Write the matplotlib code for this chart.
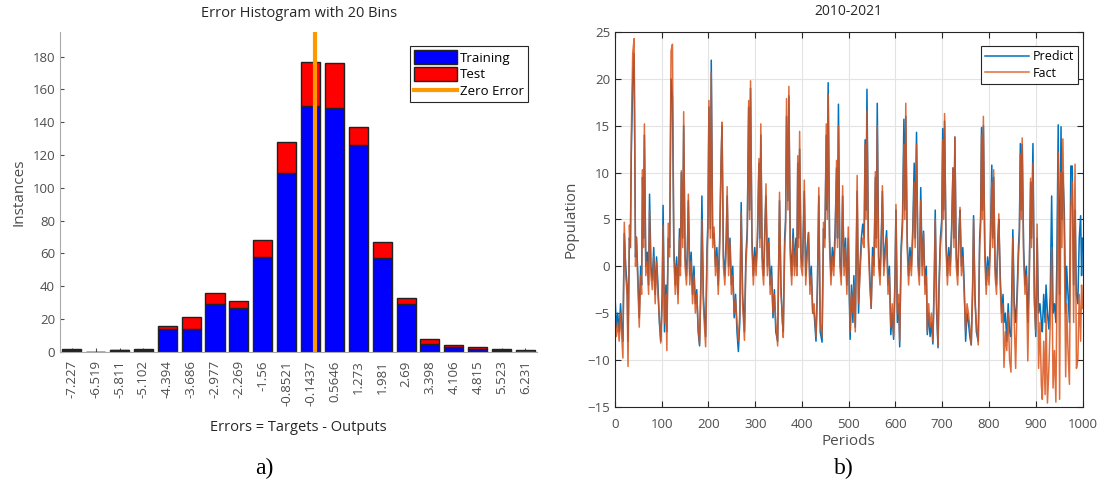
import numpy as np
import matplotlib
matplotlib.use("Agg")
from matplotlib import pyplot as plt
from matplotlib.lines import Line2D
from matplotlib.patches import Patch

plt.rcParams['font.family'] = ['Open Sans', 'DejaVu Sans']

# histogram data
bin_labels = ['-7.227', '-6.519', '-5.811', '-5.102', '-4.394', '-3.686', '-2.977',
              '-2.269', '-1.56', '-0.8521', '-0.1437', '0.5646', '1.273', '1.981',
              '2.69', '3.398', '4.106', '4.815', '5.523', '6.231']
training = [1, 0, 1, 1, 14, 14, 29, 27, 58, 109, 150, 149, 126, 57, 29, 5, 3, 2, 1, 0]
test = [1, 0, 0, 1, 2, 7, 7, 4, 10, 19, 27, 27, 11, 10, 4, 3, 1, 1, 1, 1]

# time series data (periods, fact, predict)
periods = [0, 3, 6, 9, 12, 14, 17, 20, 23, 26, 28, 31, 33, 35, 38, 41, 44, 46,
           49, 52, 55, 57, 59, 61, 63, 66, 69, 72, 74, 77, 80, 83, 86, 89, 92, 95, 98,
           101, 103, 106, 109, 111, 114, 117, 120, 123, 126,
           129, 132, 135, 138, 140, 142, 145, 147, 150, 153, 155, 157, 160, 163, 166, 169,
           172, 175, 178, 181, 184, 186, 189, 191, 194, 197, 199, 201, 204, 206,
           209, 212, 215, 218, 221, 224, 227, 229, 232, 235, 238, 240, 243, 246, 249, 252,
           255, 258, 261, 264, 267, 270, 273, 277, 280, 283, 286, 288, 290,
           293, 296, 299, 302, 305, 308, 310, 312, 315, 318, 320, 323, 326, 329, 332, 335,
           338, 341, 344, 348, 352, 355, 358, 360, 363, 365, 367, 370, 372,
           375, 378, 381, 384, 387, 389, 391, 393, 395, 398, 401, 403, 405, 408, 411, 414,
           417, 420, 423, 426, 430, 433, 436, 439, 443, 446, 449, 452, 454, 456,
           459, 462, 465, 468, 471, 474, 476, 478, 481, 484, 487, 490, 493, 496, 499, 503,
           506, 509, 511, 514, 518, 521, 524, 527, 530, 533, 535, 537, 539,
           542, 545, 548, 551, 554, 557, 559, 561, 564, 567, 570, 572, 575, 578, 581, 584,
           587, 590, 593, 596, 599, 601, 604, 607, 609, 612, 615, 618, 620, 622,
           625, 628, 631, 634, 637, 640, 642, 645, 648, 651, 654, 657, 660, 663, 666, 668,
           671, 674, 677, 680, 683, 685, 688, 691, 693, 696, 699, 701, 703, 705,
           708, 711, 714, 717, 720, 723, 725, 727, 730, 733, 736, 738, 741, 744, 747, 750,
           753, 756, 759, 762, 765, 767, 770, 773, 777, 780, 782, 784, 786, 788,
           791, 794, 797, 800, 803, 806, 808, 810, 813, 816, 819, 821, 824, 827, 830, 832,
           835, 838, 841, 844, 847, 851, 854, 857, 860, 863, 865, 867, 869, 871,
           874, 877, 880, 883, 886, 889, 891, 894, 897, 900, 903, 906, 909, 912, 914, 917,
           920, 922, 925, 928, 931, 934, 937, 940, 943, 945, 948, 951, 954, 956, 958,
           961, 964, 966, 969, 972, 975, 978, 981, 984, 987, 990, 993, 996, 998, 1000]
fact = [-5, -7.5, -6, -8, -5, -7, -9.8, 4.7, -1, -3, -10.7, 4.4, 2, 14.2, 22.7, 24.3, 0, 3.1,
        -2, -6.5, -1, -3, 10.3, 2, 15.2, -1, 0.5, -3, 6, -1, -2.5, 1, -4, 0.5, -3, -5.5, -8.2,
        -4, 4.4, -6, -3, -9, 4.6, 1, 23, 23.7, 1,
        -3, 0, -4, 3, -1, 10.2, 2, 16.5, 0, -2, 1, 7.7, -2, 0.5, -4, -1,
        -5, -3, -6.5, -8.3, -2, 5, -4, -6, -8.6, 1, 4, 17.7, 3, 20.7,
        2, 4.2, -1, 1, -3, 2, 11.4, 15.4, 0, -2, 2, 8.5, -1, 2.6, -3, -1,
        -5, -3.5, -6, -8, -5, 5.8, -4, -7.9, 0, 3, 17.7, 5, 19.8,
        2, -2, 1, -1, 4, 11.5, 2, 15.2, 0, -2, 2, 8.8, -1, 2.6, -3, -1,
        -5, -3, -6, -8.5, 7.9, -3, -5, -7.6, 2, 4, 17.9, 6, 19.2,
        1, -2, 3, -1, 2, -1, 11.8, 2, 14.4, 0, -1, 3, 9.2, -2, 1, 3.6,
        -3, -1, -5, -4, -7.5, -3, 8.4, -6, -7.5, 4.7, 2, 15.2, 5, 18.3,
        2, -2, 1, -1, 3, 11.3, 2, 15, 0, -2, 8.6, -1, 2, -3, 4.2, -7,
        -3, -5, -2, -7, 9.7, -4, -1, 2, 3, 2, 13, 5, 16.6,
        2, -2, -4.5, 1, -1, 10.1, 2, 15, 0, -2, 3, 8.6, -1, 1, 3, -3,
        -1, -6.5, -4, -7.5, -2, 6.6, -5, -3, -8, 1, 4, 13, 5, 17.4,
        2, -2, 1, -1, 3, 9, 2, 13, 0, -2, 7, -1, 3.5, -3, -1, -7,
        -4, -6.5, -5, -8, -2, 5, -4, -8.5, -3, 2, 4, 13.5, 5, 16.3,
        2, -2, 1, -1, 3, 10.5, 2, 13.8, 0, -2, 3, 6.3, -1, 1, -3, -7,
        -4, -5, -6.5, -8.4, -3, 5, -4, -6, -8.4, 2, 4, 14, 5, 16,
        1, -3, 0, -2, 2, 9, 2, 10.3, -1, -3, 2, 5.6, -2, -6, -4, -10.8,
        -7, -9, -5, -10, -11.3, 3, -6, -10.9, -4, 1, 3, 12, 5, 13.7,
        1, -3, -1, -10.1, -2, 9.4, 2, 11, -4, -7, 4.5, -10.9, -6, -12.7, -14.2, -8,
        -13.7, -5, -14.6, -11, -6, 2, -13, -9, -14.5, -5, 12.2, -14.2, 10, 2, 13.6,
        3, -11.8, -4, -9, -12.6, 6.3, 9, -6, 10.9, -10.9, -10, -3, -8, -2, -4.5]
predict = [-3, -6.5, -5, -7, -4, -6, -8, 3.5, 0, -2, -8, 3, 2, 12, 19.5, 22.7, 1, 3.1,
           -1, -5.5, 0, -2, 9.5, 3, 14, 0, 1.5, -2, 7.7, 0, -1.5, 2, -3, 1, -2, -6, -8,
           -3, 6.5, -7, -2, -7, 3, 2, 20, 18, 2,
           -2, 1, -3, 4, 0, 10, 3, 15, 1, -1, 2, 7, -1, 1.5, -3, 0,
           -4, -2.5, -7, -8.5, -1, 7.5, -3, -5, -7.5, 2, 5, 17, 4, 22,
           3, 3.5, 0, 2, -2, 3, 11, 15, 1, -1, 3, 7.5, 0, 3, -2, 0,
           -5.5, -3, -7, -9.1, -6, 6.8, -3, -7, 1, 4, 17, 6, 19,
           3, -1, 2, 0, 3, 11, 3, 14, 1, -1, 3, 7.5, 0, 3, -2, 0,
           -5.5, -2.5, -7, -8, 7, -2, -6, -7, 3, 5, 16, 7, 18.2,
           2, -1, 4, 0, 3, 0, 11, 3, 12.5, 1, 0, 4, 8, -1, 2, 3.6,
           -2, 0, -5, -5, -8, -2, 7.5, -7, -8.1, 4, 3, 14, 6, 19.6,
           3, -1, 2, 0, 4, 10.5, 3, 17.3, 1, -1, 7.5, 0, 3, -2, 3, -7.8,
           -2, -6, -1, -6.5, 8, -5, 0, 3, 4.5, 3, 13.5, 6, 18.9,
           3, -1, -4.5, 2, 0, 9.5, 3, 17.4, 1, -1, 4, 8, 0, 2, 3.8, -2,
           0, -7.3, -5, -7.8, -1, 6, -6, -4, -8.6, 2, 5, 15.7, 6, 16,
           3, -1, 2, 0, 4, 11, 3, 14.3, 1, -1, 8.4, 0, 3.75, -2, 0, -7.3,
           -5, -7.5, -6, -8.3, -1, 6, -5, -8.7, -2, 3, 5, 14.7, 6, 15.5,
           3, -1, 2, 0, 4, 10.5, 3, 13.8, 1, -1, 4, 6, 0, 2, -2, -8,
           -5, -6, -7.5, -8.4, -2, 5.4, -3, -7, -8, 3, 5, 14.8, 6, 15,
           2, -2, 1, -1, 3, 10.8, 3, 9.5, 0, -2, 3, 5, -1, -5, -3, -6,
           -5, -8, -4, -7, -7.5, 3.9, -4, -6, -3, 2, 4, 13.1, 6, 13,
           2, -2, 0, -6, -1, 9, 3, 13.1, -3, -7.5, 3, -5, -4, -6, -7, -3,
           -6, -2, -5, -6.7, -3, 7.5, -5, -4, -6, 0, 15.1, -3, 14.9, 5, 10,
           6, -5, 0, -3, -6, 10.7, 10.7, -2, 6, -3, -4, 3, 5.4, -1, 3]

text_col = '#262626'
tick_col = '#4d4d4d'

fig = plt.figure(figsize=(11.08, 4.86), dpi=100)

# ---- a) error histogram
ax1 = fig.add_axes([0.054, 0.276, 0.431, 0.658])
centers = np.array([float(s) for s in bin_labels])
bw = (centers[-1] - centers[0]) / (len(centers) - 1)
ax1.bar(centers, training, width=0.8 * bw, color='#0000ff', edgecolor='#222222', linewidth=1, zorder=2)
ax1.bar(centers, test, width=0.8 * bw, bottom=training, color='#ff0000', edgecolor='#222222', linewidth=1, zorder=2)
ax1.axvline(0, color='#ff9900', linewidth=3, zorder=3)
ax1.set_xlim(centers[0] - 0.5 * bw, centers[-1] + 0.5 * bw)
ax1.set_ylim(0, 195)
ax1.set_yticks(range(0, 181, 20))
ax1.set_xticks(centers)
ax1.set_xticklabels(bin_labels, rotation=90)
ax1.spines['top'].set_visible(False)
ax1.spines['right'].set_visible(False)
for sp in ['left', 'bottom']:
    ax1.spines[sp].set_color('#aaaaaa')
ax1.tick_params(direction='in', length=3, labelsize=9.5, colors=tick_col, labelcolor=tick_col)
ax1.tick_params(axis='x', pad=6)
ax1.set_title('Error Histogram with 20 Bins', fontsize=10.5, color=text_col, pad=11)
ax1.set_ylabel('Instances', fontsize=11, color=tick_col, labelpad=4)
ax1.set_xlabel('Errors = Targets - Outputs', fontsize=10.5, color=text_col, labelpad=10)
handles = [Patch(facecolor='#0000ff', edgecolor='#222222'),
           Patch(facecolor='#ff0000', edgecolor='#222222'),
           Line2D([], [], color='#ff9900', linewidth=3)]
leg1 = ax1.legend(handles, ['Training', 'Test', 'Zero Error'], loc='upper right',
                  bbox_to_anchor=(0.98, 0.955), fontsize=9.5, fancybox=False,
                  framealpha=1, edgecolor='#262626', borderpad=0.3, labelspacing=0.2,
                  handlelength=3.3, handleheight=1.2, handletextpad=0.2, borderaxespad=0)
leg1.get_frame().set_linewidth(0.8)

# ---- b) time series
ax2 = fig.add_axes([0.555, 0.163, 0.422, 0.771])
ax2.plot(periods, predict, color='#0072bd', linewidth=1.1, label='Predict')
ax2.plot(periods, fact, color='#d95319', linewidth=1.1, alpha=0.85, label='Fact')
ax2.set_xlim(0, 1000)
ax2.set_ylim(-15, 25)
ax2.set_xticks(range(0, 1001, 100))
ax2.set_yticks(range(-15, 26, 5))
ax2.grid(True, color='#e3e3e3', linewidth=0.8)
ax2.set_axisbelow(True)
ax2.tick_params(direction='in', length=4, top=True, right=True, labelsize=9.5,
                colors='#262626', labelcolor=tick_col)
ax2.tick_params(axis='x', pad=8)
for sp in ax2.spines.values():
    sp.set_color('#262626')
    sp.set_linewidth(0.8)
ax2.set_title('2010-2021', fontsize=10, color=text_col, pad=12)
ax2.set_xlabel('Periods', fontsize=11, color=tick_col, labelpad=2)
ax2.set_ylabel('Population', fontsize=11, color=tick_col, labelpad=6)
leg2 = ax2.legend(loc='upper right', bbox_to_anchor=(0.99, 0.962), fontsize=9,
                  fancybox=False, framealpha=1, edgecolor='#262626', borderpad=0.3,
                  labelspacing=0.3, handlelength=3.5, handletextpad=0.3, borderaxespad=0)
leg2.get_frame().set_linewidth(0.8)

fig.text(0.239, 0.037, 'a)', fontsize=17, family='Liberation Serif', ha='center', va='center')
fig.text(0.762, 0.037, 'b)', fontsize=17, family='Liberation Serif', ha='center', va='center')

plt.savefig('out.png')
